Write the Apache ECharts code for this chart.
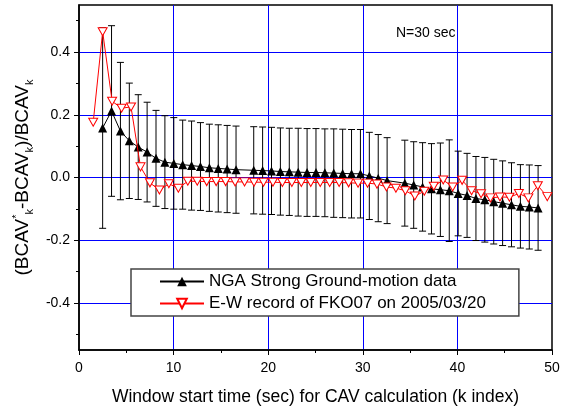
<!DOCTYPE html>
<html><head><meta charset="utf-8">
<script src="https://cdn.jsdelivr.net/npm/echarts@6/dist/echarts.min.js"></script>
<style>html,body{margin:0;padding:0;background:#fff}#c{width:565px;height:411px}</style>
</head><body><div id="c"></div><script>
// NGA Strong Ground-motion data: window start (sec), mean ratio, +/- error
const ngaX = [2.50,3.44,4.38,5.32,6.26,7.20,8.14,9.08,10.02,10.96,11.90,12.84,13.78,14.72,15.66,16.60,
  18.47,19.41,20.35,21.29,22.23,23.17,24.11,25.05,25.99,26.93,27.87,28.81,29.75,30.69,31.63,32.57,
  34.44,35.38,36.32,37.26,38.20,39.14,40.08,41.02,41.96,42.90,43.84,44.78,45.72,46.66,47.60,48.53];
const ngaMean = [0.158,0.212,0.148,0.117,0.097,0.081,0.061,0.049,0.045,0.041,0.038,0.035,0.031,0.029,0.027,0.025,
  0.023,0.022,0.021,0.019,0.018,0.017,0.016,0.016,0.015,0.014,0.013,0.012,0.012,0.005,-0.002,-0.010,
  -0.018,-0.024,-0.030,-0.036,-0.039,-0.042,-0.051,-0.057,-0.067,-0.071,-0.077,-0.082,-0.087,-0.092,-0.094,-0.097];
const ngaErr = [0.320,0.272,0.219,0.184,0.167,0.159,0.153,0.148,0.146,0.142,0.142,0.140,0.139,0.139,0.139,0.139,
  0.139,0.139,0.139,0.139,0.139,0.140,0.140,0.140,0.140,0.141,0.141,0.141,0.141,0.139,0.139,0.137,
  0.137,0.138,0.141,0.144,0.149,0.162,0.135,0.134,0.134,0.135,0.135,0.135,0.134,0.133,0.134,0.135];
// E-W record of FKO07 on 2005/03/20
const fkoX = [1.5,2.5,3.5,4.5,5.5,6.5,7.5,8.5,9.5,10.5,11.5,12.5,13.5,14.5,15.5,16.5,17.5,18.5,19.5,20.5,
  21.5,22.5,23.5,24.5,25.5,26.5,27.5,28.5,29.5,30.5,31.5,32.5,33.5,34.5,35.5,36.5,37.5,38.5,39.5,40.5,
  41.5,42.5,43.5,44.5,45.5,46.5,47.5,48.5,49.5];
const fkoY = [0.176,0.465,0.243,0.221,0.225,0.034,-0.017,-0.040,-0.020,-0.034,-0.012,-0.012,-0.013,-0.013,-0.013,-0.014,-0.014,-0.015,-0.015,-0.015,
  -0.016,-0.016,-0.016,-0.016,-0.016,-0.016,-0.016,-0.017,-0.018,-0.018,-0.021,-0.030,-0.034,-0.042,-0.059,-0.044,-0.028,-0.008,-0.030,-0.009,
  -0.042,-0.052,-0.065,-0.062,-0.063,-0.051,-0.065,-0.026,-0.061];
const yLabelTicks = [-0.4,-0.2,0,0.2,0.4];
const yMinorTicks = [-0.5,-0.3,-0.1,0.1,0.3,0.5];
const seriesNames = ['NGA Strong Ground-motion data','E-W record of FKO07 on 2005/03/20'];

const FONT = 'Liberation Sans, Arial, sans-serif';
const ngaLine = ngaX.map((x,i)=>[x, ngaMean[i]]);
const ngaBars = ngaX.map((x,i)=>[x, ngaMean[i]-ngaErr[i], ngaMean[i]+ngaErr[i]]);
const fkoLine = fkoX.map((x,i)=>[x, fkoY[i]]);

const chart = echarts.init(document.getElementById('c'), null, {renderer:'canvas'});
chart.setOption({
  animation:false,
  textStyle:{fontFamily:FONT},
  title:{text:'N=30 sec', left:391, top:21, textStyle:{fontSize:14, fontWeight:'normal', color:'#000', fontFamily:FONT}},
  grid:{left:79, right:13, top:5, bottom:58, show:true, borderColor:'#000', borderWidth:1.5, backgroundColor:'transparent'},
  legend:{orient:'vertical', left:131, top:269, padding:[4,33,4,28], itemWidth:44, itemHeight:12, itemGap:5,
    backgroundColor:'#fff', borderColor:'#444', borderWidth:1.5,
    textStyle:{fontSize:17, color:'#000', fontFamily:FONT}, data:seriesNames},
  xAxis:{type:'value', min:0, max:50, interval:10,
    axisLine:{show:true, onZero:false, lineStyle:{color:'#000', width:1.5}},
    axisTick:{show:true, length:5, lineStyle:{color:'#000'}},
    minorTick:{show:true, splitNumber:2, length:3, lineStyle:{color:'#000'}},
    axisLabel:{fontSize:14, color:'#000', margin:11, fontFamily:FONT},
    splitLine:{show:true, showMinLine:false, showMaxLine:false, lineStyle:{color:'#0000ff', width:1}},
    name:'Window start time (sec) for CAV calculation (k index)', nameLocation:'middle', nameGap:38,
    nameTextStyle:{fontSize:17.5, color:'#000', fontFamily:FONT}},
  yAxis:[{type:'value', min:-0.55, max:0.55,
    axisLine:{show:true, onZero:false, lineStyle:{color:'#000', width:1.5}},
    axisTick:{show:true, length:5, customValues:yLabelTicks, lineStyle:{color:'#000'}},
    axisLabel:{customValues:yLabelTicks, formatter:v=>v.toFixed(1), fontSize:14, color:'#000', margin:9, fontFamily:FONT},
    splitLine:{show:true, lineStyle:{color:'#0000ff', width:1}},
    name:'{m|(BCAV}{sup|*}{sub|k}{m|-BCAV}{sub|k}{m|)/BCAV}{sub|k}', nameLocation:'middle', nameGap:44,
    nameTextStyle:{color:'#000', fontFamily:FONT, fontSize:19, rich:{
      m:{fontSize:19, lineHeight:24, fontFamily:FONT, color:'#000'},
      sup:{fontSize:11, lineHeight:11, verticalAlign:'top', fontFamily:FONT, color:'#000'},
      sub:{fontSize:11, lineHeight:11, verticalAlign:'bottom', fontFamily:FONT, color:'#000'}}}
  },{type:'value', min:-0.55, max:0.55, position:'left',
    axisLine:{show:false, onZero:false}, axisTick:{show:true, length:3, customValues:yMinorTicks, lineStyle:{color:'#000'}},
    axisLabel:{show:false}, splitLine:{show:false}}],
  series:[
    {type:'custom', name:'errbar', z:2, silent:true, data:ngaBars,
      renderItem:(params, api)=>{
        const x = api.value(0);
        const lo = api.coord([x, api.value(1)]);
        const hi = api.coord([x, api.value(2)]);
        const w = 3.5;
        const st = {stroke:'#000', lineWidth:1};
        return {type:'group', children:[
          {type:'line', shape:{x1:lo[0], y1:lo[1], x2:hi[0], y2:hi[1]}, style:st},
          {type:'line', shape:{x1:lo[0]-w, y1:lo[1], x2:lo[0]+w, y2:lo[1]}, style:st},
          {type:'line', shape:{x1:hi[0]-w, y1:hi[1], x2:hi[0]+w, y2:hi[1]}, style:st}]};
      }},
    {type:'line', name:seriesNames[0], z:3, data:ngaLine, symbol:'triangle', symbolSize:9,
      itemStyle:{color:'#000'}, lineStyle:{color:'#000', width:1}},
    {type:'line', name:seriesNames[1], z:4, data:fkoLine, symbol:'path://M0,0L10,0L5,9Z', symbolSize:[9,8],
      itemStyle:{color:'#fff', borderColor:'#ff0000', borderWidth:1}, lineStyle:{color:'#ff0000', width:1}}
  ]
});
</script></body></html>
